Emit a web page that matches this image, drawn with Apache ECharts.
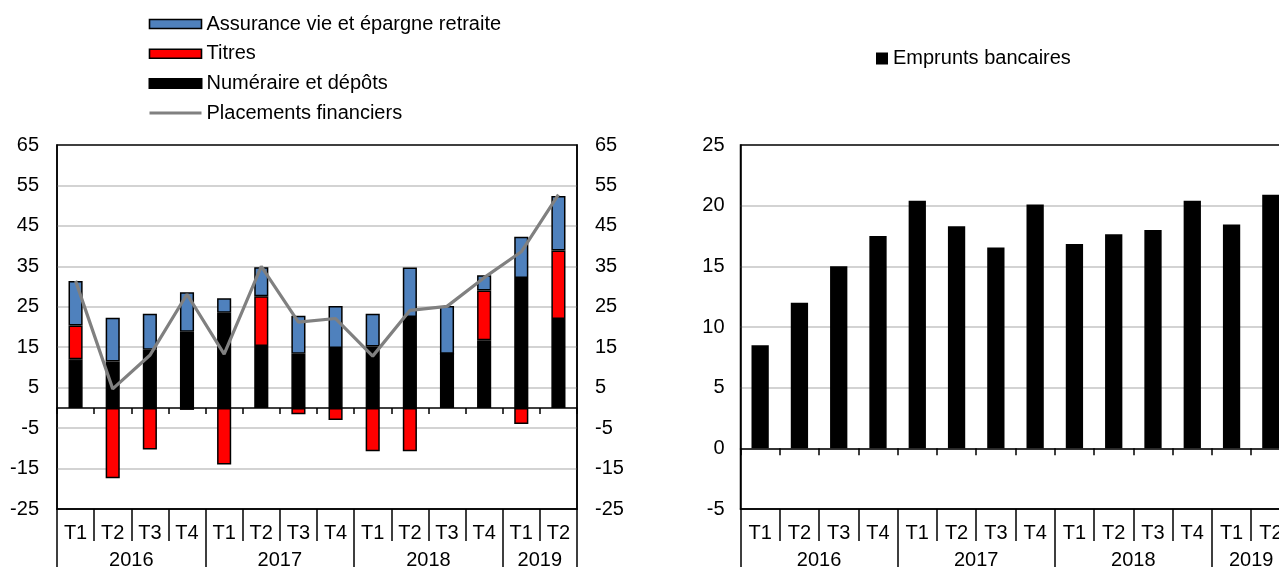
<!DOCTYPE html>
<html><head><meta charset="utf-8">
<script src="https://cdn.jsdelivr.net/npm/echarts@6/dist/echarts.min.js"></script>
<style>html,body{margin:0;padding:0;background:#fff}#c{width:1279px;height:567px}</style>
</head><body><div id="c"></div>
<script>
// ---- data ----
const years = ['2016', '2017', '2018', '2019'];
const quartersPerYear = [4, 4, 4, 2];
const quarters = ['T1','T2','T3','T4','T1','T2','T3','T4','T1','T2','T3','T4','T1','T2'];
const numeraire = [12.0, 11.5, 14.4, 18.8, 23.5, 15.3, 13.4, 14.8, 15.2, 22.5, 13.4, 16.7, 32.1, 22.0];
const titres = [8.4, -17.4, -10.3, -0.5, -14.0, 12.3, -1.6, -3.0, -10.7, -10.7, 0, 12.3, -4.0, 16.9];
const assurance = [11.0, 10.8, 8.9, 9.8, 3.6, 7.2, 9.4, 10.4, 8.1, 12.2, 11.8, 3.8, 10.2, 13.5];
const placements = [31.4, 4.7, 13.0, 28.1, 13.3, 35.0, 21.2, 22.1, 12.8, 24.1, 25.1, 32.2, 38.6, 52.7];
const emprunts = [8.5, 12.0, 15.0, 17.5, 20.4, 18.3, 16.55, 20.1, 16.85, 17.65, 18.0, 20.4, 18.45, 20.9];
const leftTicks = { min: -25, max: 65, interval: 10 };
const rightTicks = { min: -5, max: 25, interval: 5 };
const names = {
  assurance: 'Assurance vie et épargne retraite',
  titres: 'Titres',
  numeraire: 'Numéraire et dépôts',
  placements: 'Placements financiers',
  emprunts: 'Emprunts bancaires'
};

// ---- derived category info ----
const yearOfCat = [];
const yearStart = {};
const yearLabelAt = {};
let s = 0;
years.forEach((y, i) => {
  const n = quartersPerYear[i];
  yearStart[s] = true;
  yearLabelAt[s + Math.floor(n / 2) - 1] = true;
  for (let k = 0; k < n; k++) yearOfCat.push(y);
  s += n;
});
const catKeys = quarters.map((q, i) => yearOfCat[i] + ' ' + q);

const FONT = '"Liberation Sans", Arial, sans-serif';
const FS = 20;
const BLACK = '#000';
const GRIDC = '#c4c4c4';

const grids = [
  { left: 57, top: 145, width: 520, height: 364 },
  { left: 740.5, top: 145, width: 550, height: 364 }
];

function xAxesFor(gi, zeroTick) {
  const catW = grids[gi].width / catKeys.length;
  return [
    { gridIndex: gi, type: 'category', data: catKeys, position: 'bottom',
      axisLine: { onZero: true, lineStyle: { color: BLACK, width: 1.5 } },
      axisTick: { show: true, interval: 0, length: zeroTick, lineStyle: { color: BLACK, width: 1.5 } },
      axisLabel: { show: false }, splitLine: { show: false } },
    { gridIndex: gi, type: 'category', data: catKeys, position: 'bottom',
      axisLine: { onZero: false, lineStyle: { color: BLACK, width: 1.5 } },
      axisTick: { show: true, interval: 0, length: 32, lineStyle: { color: BLACK, width: 1.5 } },
      axisLabel: { interval: 0, margin: 14, fontSize: FS, color: BLACK, fontFamily: FONT,
        formatter: (v, i) => quarters[i] }, splitLine: { show: false } },
    { gridIndex: gi, type: 'category', data: catKeys, position: 'bottom',
      axisLine: { onZero: false, show: false },
      axisTick: { show: true, length: 58, interval: (i) => !!yearStart[i], lineStyle: { color: BLACK, width: 1.5 } },
      axisLabel: { interval: (i) => !!yearLabelAt[i], margin: 41, fontSize: FS, color: BLACK, fontFamily: FONT,
        padding: [0, 0, 0, catW], formatter: (v, i) => yearOfCat[i] }, splitLine: { show: false } }
  ];
}

function yAxis(gi, t, pos, margin, split) {
  return { gridIndex: gi, type: 'value', min: t.min, max: t.max, interval: t.interval, position: pos,
    axisLine: { show: true, onZero: false, lineStyle: { color: BLACK, width: 1.5 } },
    axisTick: { show: false },
    axisLabel: { margin: margin, fontSize: FS, color: BLACK, fontFamily: FONT },
    splitLine: { show: split, showMinLine: false, showMaxLine: false, lineStyle: { color: GRIDC, width: 1.5 } } };
}

const chart = echarts.init(document.getElementById('c'), null, { renderer: 'canvas' });
chart.setOption({
  animation: false,
  backgroundColor: '#fff',
  textStyle: { fontFamily: FONT },
  grid: grids.map(g => Object.assign({ show: true, borderColor: BLACK, borderWidth: 1.5,
    backgroundColor: 'transparent', outerBoundsMode: 'none', containLabel: false }, g)),
  legend: [
    { orient: 'vertical', left: 148, top: 14, padding: 0, itemWidth: 52, itemHeight: 9, itemGap: 9.7,
      textStyle: { fontSize: FS, lineHeight: 20, color: BLACK, fontFamily: FONT },
      data: [
        { name: names.assurance, icon: 'rect', itemStyle: { borderWidth: 1.6 } },
        { name: names.titres, icon: 'rect', itemStyle: { borderWidth: 1.6 } },
        { name: names.numeraire, icon: 'rect' },
        { name: names.placements, lineStyle: { color: '#808080', width: 3 },
          itemStyle: { color: 'rgba(0,0,0,0)', borderColor: 'rgba(0,0,0,0)', borderWidth: 0 } }
      ] },
    { left: 876, top: 48.5, padding: 0, itemWidth: 12, itemHeight: 12,
      textStyle: { fontSize: FS, lineHeight: 20, color: BLACK, fontFamily: FONT },
      data: [{ name: names.emprunts, icon: 'rect' }] }
  ],
  xAxis: xAxesFor(0, 6).concat(xAxesFor(1, 7)),
  yAxis: [
    yAxis(0, leftTicks, 'left', 18, true),
    yAxis(0, leftTicks, 'right', 18, false),
    yAxis(1, rightTicks, 'left', 16, true)
  ],
  series: [
    { name: names.numeraire, type: 'bar', stack: 'a', xAxisIndex: 0, yAxisIndex: 0, data: numeraire,
      barWidth: '38%', itemStyle: { color: '#000', borderColor: BLACK, borderWidth: 1.5 } },
    { name: names.titres, type: 'bar', stack: 'a', xAxisIndex: 0, yAxisIndex: 0, data: titres,
      itemStyle: { color: '#ff0000', borderColor: BLACK, borderWidth: 1.5 } },
    { name: names.assurance, type: 'bar', stack: 'a', xAxisIndex: 0, yAxisIndex: 0, data: assurance,
      itemStyle: { color: '#4f81bd', borderColor: BLACK, borderWidth: 1.5 } },
    { name: names.placements, type: 'line', xAxisIndex: 0, yAxisIndex: 0, data: placements,
      symbol: 'none', z: 5, lineStyle: { color: '#808080', width: 3.2 }, itemStyle: { color: '#808080' } },
    { name: names.emprunts, type: 'bar', xAxisIndex: 3, yAxisIndex: 2, data: emprunts,
      barWidth: '44%', itemStyle: { color: '#000' } }
  ]
});
</script>
</body></html>
